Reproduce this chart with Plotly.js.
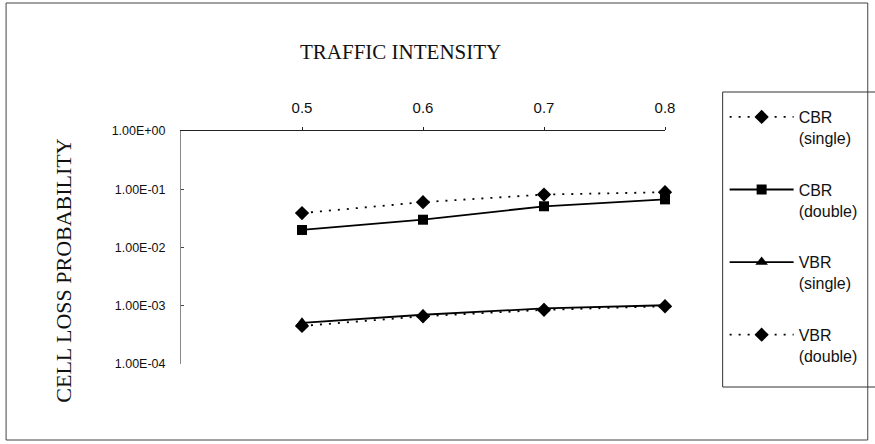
<!DOCTYPE html>
<html>
<head>
<meta charset="utf-8">
<script src="https://cdn.plot.ly/plotly-3.0.1.min.js"></script>
<style>
  html, body { margin: 0; padding: 0; background: #ffffff; }
  #chart { width: 875px; height: 444px; }
</style>
</head>
<body>
<div id="chart"></div>
<script>
// ---- data ----
const trafficIntensity = [0.5, 0.6, 0.7, 0.8];
const xTickLabels = ['0.5', '0.6', '0.7', '0.8'];
const cbrSingle = [0.039, 0.060, 0.081, 0.089];
const cbrDouble = [0.020, 0.030, 0.051, 0.067];
const vbrSingle = [5.1e-4, 7.0e-4, 9.0e-4, 1.02e-3];
const vbrDouble = [4.5e-4, 6.6e-4, 8.5e-4, 9.8e-4];
const yTickValues = [1, 0.1, 0.01, 0.001, 0.0001];
const yTickLabels = ['1.00E+00', '1.00E-01', '1.00E-02', '1.00E-03', '1.00E-04'];
const seriesNames = ['CBR<br>(single)', 'CBR<br>(double)', 'VBR<br>(single)', 'VBR<br>(double)'];

// ---- layout constants ----
const W = 875, H = 444;
const M = { l: 181, r: 207, t: 131, b: 80 };
const pw = W - M.l - M.r, ph = H - M.t - M.b;
const px = v => (v - M.l) / pw;          // pixel x -> paper x
const py = v => (H - M.b - v) / ph;      // pixel y -> paper y

const serif = '"Liberation Serif", "Times New Roman", serif';
const sans = '"Liberation Sans", Arial, sans-serif';

function mk(y, name, dash, symbol, size, group) {
  return {
    x: trafficIntensity, y: y, name: name, type: 'scatter', mode: 'lines+markers',
    line: { color: '#000', width: 1.8, dash: dash },
    marker: { color: '#000', symbol: symbol, size: size },
    legendgroup: group, cliponaxis: false
  };
}

const traces = [
  mk(cbrSingle, seriesNames[0], '2px,7px', 'diamond', 11, 'a'),
  mk(cbrDouble, seriesNames[1], 'solid', 'square', 10, 'b'),
  mk(vbrSingle, seriesNames[2], 'solid', 'triangle-up', 11, 'c'),
  mk(vbrDouble, seriesNames[3], '2px,7px', 'diamond', 11, 'd')
];

const layout = {
  width: W, height: H, autosize: false,
  margin: M,
  paper_bgcolor: '#fff', plot_bgcolor: '#fff',
  showlegend: true,
  title: {
    text: 'TRAFFIC INTENSITY',
    font: { family: serif, size: 21, color: '#111' },
    x: px(402), xref: 'paper', xanchor: 'center',
    y: 1 - 52 / H, yref: 'container', yanchor: 'middle'
  },
  xaxis: {
    type: 'linear', range: [0.4, 0.8], side: 'top',
    tickvals: trafficIntensity, ticktext: xTickLabels,
    ticks: 'outside', ticklen: 3, tickcolor: '#222',
    showline: true, linecolor: '#222', linewidth: 1,
    showgrid: false, zeroline: false,
    tickfont: { family: sans, size: 15, color: '#111' },
    ticklabelstandoff: 8
  },
  yaxis: {
    type: 'log', range: [-4, 0],
    tickvals: yTickValues, ticktext: yTickLabels,
    ticks: 'inside', ticklen: 3, tickcolor: '#444',
    showline: true, linecolor: '#888', linewidth: 1,
    showgrid: false, zeroline: false,
    tickfont: { family: sans, size: 12.5, color: '#111' },
    ticklabelstandoff: 12
  },
  legend: {
    x: px(728), y: py(100), xanchor: 'left', yanchor: 'top',
    bgcolor: 'rgba(0,0,0,0)', borderwidth: 0,
    font: { family: sans, size: 16, color: '#111' },
    itemwidth: 64, valign: 'top', tracegroupgap: 28,
    traceorder: 'grouped', maxheight: 400
  },
  annotations: [{
    text: 'CELL LOSS PROBABILITY',
    xref: 'paper', yref: 'paper', x: px(62), y: py(270),
    xanchor: 'center', yanchor: 'middle',
    showarrow: false, textangle: -90,
    font: { family: serif, size: 22, color: '#111' }
  }],
  shapes: [{
    type: 'rect', xref: 'paper', yref: 'paper',
    x0: px(5), x1: px(872), y0: py(440), y1: py(3),
    line: { color: '#444', width: 1 }, fillcolor: 'rgba(0,0,0,0)', layer: 'below'
  }, {
    type: 'rect', xref: 'paper', yref: 'paper',
    x0: px(726), x1: px(885), y0: py(387), y1: py(92),
    line: { color: '#333', width: 1 }, fillcolor: 'rgba(0,0,0,0)', layer: 'below'
  }]
};

Plotly.newPlot('chart', traces, layout, { displayModeBar: false, staticPlot: true });
</script>
</body>
</html>
